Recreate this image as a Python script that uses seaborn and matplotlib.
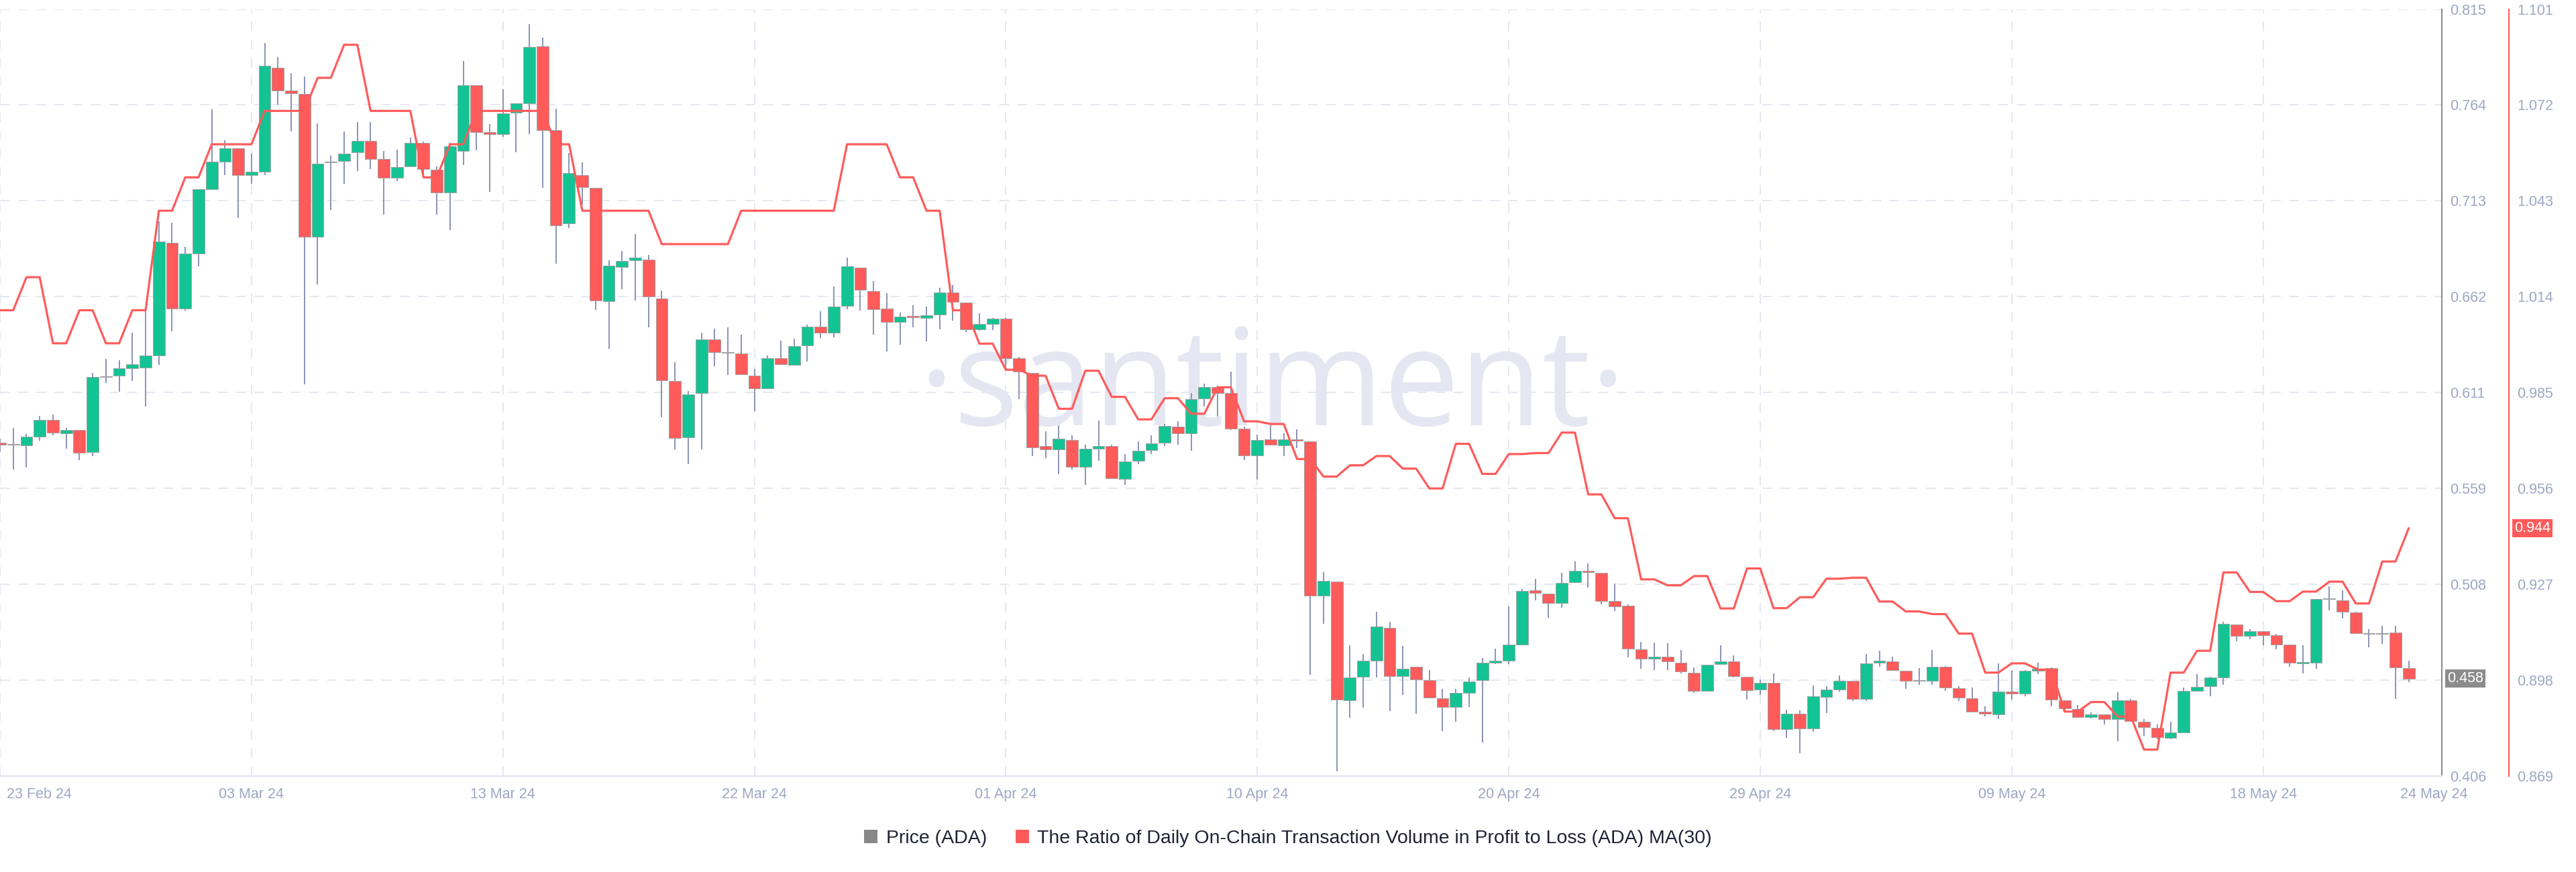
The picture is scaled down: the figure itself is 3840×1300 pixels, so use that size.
import numpy as np
import matplotlib
matplotlib.use("Agg")
import matplotlib.pyplot as plt
import seaborn as sns
from matplotlib.patches import Patch
from matplotlib import transforms as mtransforms

# ---------------- data (12h candles, ADA price) ----------------
open_ = [0.5839,0.5829,0.5824,0.5871,0.5959,0.5888,0.5904,0.5788,0.6191,0.6197,
0.6236,0.6240,0.6304,0.6903,0.6552,0.6847,0.7191,0.7336,0.7408,0.7264,
0.7282,0.7836,0.7714,0.7698,0.6935,0.7333,0.7340,0.7386,0.7448,0.7349,
0.7250,0.7311,0.7437,0.7295,0.7170,0.7392,0.7744,0.7492,0.7484,0.7596,
0.7648,0.7951,0.7504,0.7008,0.7264,0.7196,0.6592,0.6776,0.6810,0.6815,
0.6607,0.6165,0.5866,0.6101,0.6389,0.6322,0.6312,0.6194,0.6128,0.6288,
0.6253,0.6357,0.6456,0.6424,0.6567,0.6770,0.6645,0.6554,0.6480,0.6511,
0.6504,0.6520,0.6639,0.6584,0.6442,0.6472,0.6498,0.6287,0.6210,0.5818,
0.5802,0.5853,0.5708,0.5807,0.5820,0.5644,0.5740,0.5799,0.5837,0.5924,
0.5888,0.6074,0.6135,0.6101,0.5911,0.5770,0.5855,0.5822,0.5855,0.5846,
0.5023,0.5098,0.4464,0.4590,0.4676,0.4849,0.4593,0.4643,0.4573,0.4475,
0.4429,0.4502,0.4570,0.4666,0.4676,0.4762,0.5050,0.5032,0.4983,0.5092,
0.5156,0.5145,0.4992,0.4970,0.4736,0.4685,0.4698,0.4666,0.4612,0.4515,
0.4659,0.4670,0.4588,0.4520,0.4557,0.4310,0.4392,0.4315,0.4483,0.4520,
0.4568,0.4473,0.4663,0.4673,0.4620,0.4569,0.4569,0.4644,0.4527,0.4476,
0.4404,0.4388,0.4511,0.4500,0.4623,0.4636,0.4465,0.4417,0.4375,0.4388,
0.4364,0.4465,0.4348,0.4316,0.4265,0.4292,0.4513,0.4540,0.4585,0.4868,
0.4809,0.4831,0.4812,0.4761,0.4662,0.4663,0.5004,0.4996,0.4932,0.4822,
0.4818,0.4827,0.4636]

high = [0.5858,0.5917,0.5885,0.5981,0.5989,0.5917,0.5904,0.6208,0.6285,0.6279,
0.6426,0.6546,0.7018,0.7010,0.6882,0.7189,0.7615,0.7450,0.7408,0.7381,
0.7968,0.7896,0.7808,0.7789,0.7541,0.7367,0.7498,0.7546,0.7546,0.7394,
0.7402,0.7464,0.7442,0.7312,0.7437,0.7872,0.7744,0.7536,0.7722,0.7647,
0.8071,0.7999,0.7618,0.7384,0.7332,0.7196,0.6812,0.6860,0.6951,0.6840,
0.6650,0.6266,0.6114,0.6426,0.6445,0.6452,0.6413,0.6232,0.6303,0.6381,
0.6392,0.6466,0.6538,0.6672,0.6824,0.6770,0.6698,0.6634,0.6530,0.6572,
0.6564,0.6663,0.6679,0.6584,0.6527,0.6503,0.6503,0.6295,0.6210,0.5898,
0.5932,0.5876,0.5828,0.5956,0.5828,0.5776,0.5844,0.5876,0.5936,0.5952,
0.6103,0.6151,0.6143,0.6218,0.5922,0.5879,0.5937,0.5886,0.5910,0.5846,
0.5147,0.5098,0.4758,0.4712,0.4935,0.4882,0.4754,0.4643,0.4626,0.4524,
0.4524,0.4584,0.4690,0.4740,0.4964,0.5059,0.5111,0.5032,0.5142,0.5206,
0.5193,0.5145,0.5087,0.4977,0.4776,0.4771,0.4767,0.4734,0.4639,0.4655,
0.4758,0.4703,0.4588,0.4575,0.4608,0.4414,0.4410,0.4542,0.4541,0.4597,
0.4568,0.4712,0.4728,0.4696,0.4620,0.4636,0.4732,0.4647,0.4540,0.4532,
0.4433,0.4660,0.4624,0.4624,0.4663,0.4641,0.4465,0.4439,0.4401,0.4388,
0.4508,0.4471,0.4364,0.4337,0.4348,0.4532,0.4604,0.4588,0.4884,0.4868,
0.4844,0.4831,0.4817,0.4761,0.4759,0.5004,0.5073,0.5052,0.4935,0.4844,
0.4860,0.4860,0.4676]

low = [0.5786,0.5696,0.5704,0.5850,0.5877,0.5807,0.5746,0.5767,0.6157,0.6109,
0.6165,0.6029,0.6253,0.6431,0.6543,0.6778,0.7191,0.7266,0.7037,0.7218,
0.7266,0.7639,0.7498,0.6148,0.6682,0.7079,0.7220,0.7288,0.7298,0.7053,
0.7234,0.7306,0.7253,0.7053,0.6970,0.7319,0.7397,0.7176,0.7469,0.7388,
0.7484,0.7197,0.6791,0.6981,0.7106,0.6546,0.6338,0.6655,0.6597,0.6453,
0.5973,0.5802,0.5722,0.5802,0.6247,0.6199,0.6199,0.6007,0.6125,0.6255,
0.6253,0.6272,0.6397,0.6399,0.6549,0.6541,0.6413,0.6324,0.6359,0.6453,
0.6378,0.6442,0.6490,0.6429,0.6434,0.6439,0.6234,0.6071,0.5767,0.5757,
0.5668,0.5696,0.5612,0.5740,0.5644,0.5612,0.5724,0.5776,0.5820,0.5828,
0.5796,0.6031,0.5978,0.5906,0.5746,0.5642,0.5826,0.5767,0.5809,0.4599,
0.4871,0.4085,0.4370,0.4425,0.4584,0.4407,0.4493,0.4392,0.4480,0.4301,
0.4350,0.4429,0.4240,0.4657,0.4657,0.4762,0.4996,0.4904,0.4959,0.5092,
0.5065,0.4977,0.4941,0.4694,0.4634,0.4626,0.4626,0.4608,0.4502,0.4515,
0.4654,0.4584,0.4469,0.4493,0.4301,0.4264,0.4182,0.4295,0.4397,0.4509,
0.4461,0.4461,0.4644,0.4624,0.4525,0.4545,0.4548,0.4516,0.4461,0.4404,
0.4380,0.4364,0.4468,0.4484,0.4604,0.4431,0.4404,0.4372,0.4367,0.4337,
0.4247,0.4351,0.4273,0.4257,0.4257,0.4292,0.4513,0.4484,0.4548,0.4780,
0.4788,0.4756,0.4737,0.4644,0.4609,0.4633,0.4945,0.4900,0.4820,0.4748,
0.4764,0.4471,0.4561]

close = [0.5826,0.5827,0.5871,0.5959,0.5892,0.5904,0.5784,0.6189,0.6188,0.6234,
0.6255,0.6304,0.6909,0.6554,0.6847,0.7189,0.7335,0.7408,0.7266,0.7282,
0.7847,0.7717,0.7701,0.6935,0.7325,0.7338,0.7381,0.7448,0.7351,0.7250,
0.7308,0.7437,0.7298,0.7172,0.7418,0.7743,0.7492,0.7484,0.7594,0.7647,
0.7949,0.7504,0.6997,0.7274,0.7200,0.6596,0.6783,0.6808,0.6826,0.6618,
0.6170,0.5863,0.6096,0.6389,0.6322,0.6317,0.6204,0.6128,0.6288,0.6255,
0.6354,0.6455,0.6424,0.6564,0.6778,0.6652,0.6548,0.6482,0.6511,0.6509,
0.6519,0.6639,0.6589,0.6442,0.6471,0.6498,0.6290,0.6215,0.5813,0.5802,
0.5858,0.5708,0.5804,0.5820,0.5648,0.5738,0.5796,0.5834,0.5927,0.5888,
0.6071,0.6133,0.6103,0.5914,0.5770,0.5853,0.5826,0.5855,0.5849,0.5023,
0.5101,0.4469,0.4586,0.4674,0.4858,0.4593,0.4634,0.4575,0.4480,0.4429,
0.4502,0.4566,0.4666,0.4674,0.4762,0.5047,0.5036,0.4983,0.5090,0.5156,
0.5149,0.4992,0.4964,0.4740,0.4685,0.4698,0.4672,0.4617,0.4515,0.4655,
0.4670,0.4593,0.4517,0.4557,0.4310,0.4392,0.4315,0.4484,0.4520,0.4568,
0.4472,0.4660,0.4676,0.4624,0.4569,0.4570,0.4644,0.4532,0.4479,0.4404,
0.4391,0.4511,0.4500,0.4620,0.4633,0.4468,0.4420,0.4375,0.4388,0.4364,
0.4465,0.4353,0.4321,0.4268,0.4292,0.4513,0.4536,0.4584,0.4871,0.4809,
0.4831,0.4812,0.4761,0.4663,0.4667,0.5004,0.5009,0.4937,0.4823,0.4818,
0.4822,0.4639,0.4580]

# daily ratio (MA30), one value per day
ratio_daily = [1.0099,1.0199,0.9999,1.0099,0.9999,1.0099,1.0400,1.0501,1.0601,1.0601,
1.0702,1.0702,1.0802,1.0902,1.0702,1.0702,1.0501,1.0601,1.0702,1.0702,
1.0702,1.0601,1.0400,1.0400,1.0400,1.0299,1.0299,1.0299,1.0400,1.0400,
1.0400,1.0400,1.0601,1.0601,1.0501,1.0400,1.0099,0.9998,0.9919,0.9901,
0.9801,0.9916,0.9837,0.9769,0.9833,0.9786,0.9866,0.9763,0.9755,0.9649,
0.9596,0.9630,0.9658,0.9620,0.9560,0.9695,0.9604,0.9664,0.9667,0.9729,
0.9542,0.9470,0.9285,0.9267,0.9295,0.9197,0.9318,0.9198,0.9231,0.9287,
0.9290,0.9218,0.9188,0.9180,0.9121,0.9003,0.9031,0.9012,0.8885,0.8914,
0.8870,0.8770,0.9003,0.9069,0.9306,0.9247,0.9219,0.9248,0.9278,0.9212,
0.9339,0.9440]

x_tick_pos = [0, 19, 38, 57, 76, 95, 114, 133, 152, 171]
x_tick_labels = ["23 Feb 24", "03 Mar 24", "13 Mar 24", "22 Mar 24", "01 Apr 24",
                 "10 Apr 24", "20 Apr 24", "29 Apr 24", "09 May 24", "18 May 24"]
end_label = "24 May 24"
price_tick_labels = ["0.406", "0.458", "0.508", "0.559", "0.611", "0.662", "0.713", "0.764", "0.815"]
ratio_tick_labels = ["0.869", "0.898", "0.927", "0.956", "0.985", "1.014", "1.043", "1.072", "1.101"]
price_name = "Price (ADA)"
ratio_name = "The Ratio of Daily On-Chain Transaction Volume in Profit to Loss (ADA) MA(30)"

# ---------------- style ----------------
sns.set_theme(style="white")
plt.rcParams["font.family"] = ["Liberation Sans", "DejaVu Sans"]

GREEN = "#14C393"
RED = "#FF5B5B"
WICK = "#8A93B6"
TICK = "#9DA7C4"
GRID = "#E6E8F1"

W, H = 3840, 1300
fig = plt.figure(figsize=(W / 100, H / 100), dpi=100)
ax_right_px, ax_top_px, ax_bot_px = 3640, 13.5, 1157
ax = fig.add_axes([0, 1 - ax_bot_px / H, ax_right_px / W, (ax_bot_px - ax_top_px) / H])
ax2 = ax.twinx()

o = np.array(open_); c = np.array(close)
hi = np.array(high); lo = np.array(low)
idx = np.arange(len(c))
up = c >= o
colors = np.where(up, GREEN, RED)
min_h = 0.0005
bb = np.minimum(o, c)
bh = np.abs(c - o)
small = bh < min_h
bb = np.where(small, (o + c) / 2 - min_h / 2, bb)
bh = np.where(small, min_h, bh)

ax.vlines(idx, lo, hi, color=WICK, lw=1.4, zorder=2)
ax.bar(idx, bh, bottom=bb, width=0.9, color=colors, edgecolor="#A2A2A2",
       linewidth=0.7, zorder=3)

# watermark
ax.text(0.521, 0.457, "·santiment·", transform=ax.transAxes, fontsize=145,
        color="#E4E6F1", ha="center", va="baseline",
        family=["Open Sans", "DejaVu Sans"], zorder=0.2)

# ratio line (each daily value spans two 12h points)
rx = idx
ry = np.repeat(np.array(ratio_daily), 2)[:len(idx)]
sns.lineplot(x=rx, y=ry, ax=ax2, color=RED, lw=2.3, legend=False)

# axes limits and ticks
ax.set_xlim(0, 184.5)
ax.set_ylim(0.406, 0.815)
ax2.set_ylim(0.869, 1.101)

ax.set_yticks(np.linspace(0.406, 0.815, 9))
ax.set_yticklabels(price_tick_labels)
ax2.set_yticks(np.linspace(0.869, 1.101, 9))
ax2.set_yticklabels(ratio_tick_labels)
ax.yaxis.tick_right()

ax.set_xticks(x_tick_pos + [183.9])
ax.set_xticklabels(x_tick_labels + [end_label])
ax.set_xlabel(""); ax.set_ylabel(""); ax2.set_ylabel(""); ax2.set_xlabel("")

ax.tick_params(axis="y", which="both", length=0, pad=9, labelsize=15.5, labelcolor=TICK,
               left=False, right=True, labelleft=False, labelright=True)
ax.tick_params(axis="x", length=0, pad=12, labelsize=15.5, labelcolor=TICK)
ax2.tick_params(axis="y", length=0, pad=9, labelsize=15.5, labelcolor=TICK)

# offset first x label to the right like the reference
lab0 = ax.get_xticklabels()[0]
lab0.set_horizontalalignment("left")
lab0.set_transform(lab0.get_transform() +
                   mtransforms.ScaledTranslation(10 / 100, 0, fig.dpi_scale_trans))

# grid
dash = (0, (7, 6))
ax.set_axisbelow(True)
ax.grid(False)
ax2.grid(False)
ax.yaxis.grid(True, color=GRID, lw=1.5, ls=dash, zorder=0.5)
for p in x_tick_pos:
    ax.axvline(p, color=GRID, lw=1.5, ls=dash, zorder=0.5)

# spines
for a in (ax, ax2):
    a.spines["top"].set_visible(False)
    a.spines["left"].set_visible(False)
ax.spines["bottom"].set_color("#E1E4EE")
ax.spines["bottom"].set_linewidth(1.6)
ax2.spines["bottom"].set_visible(False)
ax.spines["right"].set_color("#8C8C8C")
ax.spines["right"].set_linewidth(1.5)
ax2.spines["right"].set_position(("axes", 1 + 100 / ax_right_px))
ax2.spines["right"].set_color(RED)
ax2.spines["right"].set_linewidth(1.5)

# last-value badges
t1 = mtransforms.blended_transform_factory(ax.transAxes, ax.transData)
ax.text(1 + 8 / ax_right_px, c[-1], f"{c[-1]:.3f}", transform=t1, ha="left", va="center",
        fontsize=15.5, color="white", zorder=20, clip_on=False,
        bbox=dict(boxstyle="square,pad=0.15", fc="#8C8C8C", ec="none"))
t2 = mtransforms.blended_transform_factory(ax2.transAxes, ax2.transData)
ax2.text(1 + 108 / ax_right_px, ratio_daily[-1], f"{ratio_daily[-1]:.3f}", transform=t2,
         ha="left", va="center", fontsize=15.5, color="white", zorder=20, clip_on=False,
         bbox=dict(boxstyle="square,pad=0.15", fc=RED, ec="none"))

# legend
handles = [Patch(facecolor="#888888", edgecolor="none", label=price_name),
           Patch(facecolor=RED, edgecolor="none", label=ratio_name)]
fig.legend(handles=handles, loc="center", bbox_to_anchor=(0.5, 1 - 1250 / H), ncol=2,
           frameon=False, fontsize=20.5, handlelength=0.7, handleheight=0.7,
           handletextpad=0.45, columnspacing=1.5, labelcolor="#1E2234")

fig.savefig("out.png", dpi=100, facecolor="white")
